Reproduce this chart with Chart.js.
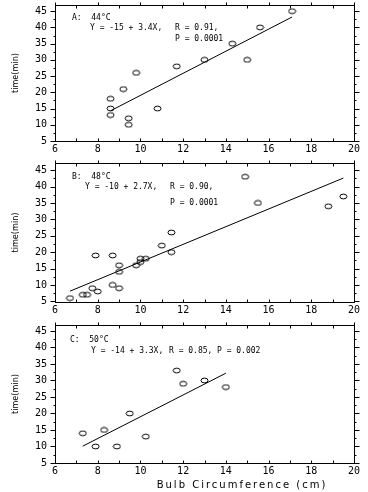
<!DOCTYPE html>
<html>
<head>
<meta charset="utf-8">
<script src="https://cdn.jsdelivr.net/npm/chart.js@4/dist/chart.umd.min.js"></script>
<style>
  body { margin: 0; background: #fff; }
  #wrap { position: relative; width: 368px; height: 492px; }
  canvas { position: absolute; left: 0; }
</style>
</head>
<body>
<div id="wrap">
  <canvas id="chartA" width="368" height="158" style="top:0px"></canvas>
  <canvas id="chartB" width="368" height="162" style="top:158px"></canvas>
  <canvas id="chartC" width="368" height="172" style="top:320px"></canvas>
</div>
<script>
// tick labels
var xTicks = [6, 8, 10, 12, 14, 16, 18, 20];
var yTicks = [5, 10, 15, 20, 25, 30, 35, 40, 45];

// A: 44°C
var bulbA = [8.6, 8.6, 8.6, 9.2, 9.45, 9.45, 9.8, 10.8, 11.7, 13.0, 14.3, 15.0, 15.6, 17.1];
var timeA = [18, 15, 13, 21, 12, 10, 26, 15, 28, 30, 35, 30, 40, 45];
var fitAx = [8.6, 17.1];
var fitAy = [14.3, 43.2];

// B: 48°C
var bulbB = [6.7, 7.3, 7.5, 7.75, 8.0, 7.9, 8.7, 8.7, 9.0, 9.0, 9.0, 9.8, 10.0, 10.0, 10.25, 11.0, 11.45, 11.45, 14.9, 15.5, 18.8, 19.5];
var timeB = [6, 7, 7, 9, 8, 19, 19, 10, 16, 14, 9, 16, 18, 17, 18, 22, 26, 20, 43, 35, 34, 37];
var fitBx = [6.7, 19.5];
var fitBy = [8.1, 42.6];

// C: 50°C
var bulbC = [7.3, 7.9, 8.3, 8.9, 9.5, 10.25, 11.7, 12.0, 13.0, 14.0];
var timeC = [14, 10, 15, 10, 20, 13, 33, 29, 30, 28];
var fitCx = [7.3, 14.0];
var fitCy = [10.1, 32.2];

function pairs(xs, ys) {
  return xs.map(function (x, i) { return { x: x, y: ys[i] }; });
}

// open oval marker
var oval = document.createElement('canvas');
oval.width = 9; oval.height = 7;
(function () {
  var c = oval.getContext('2d');
  c.strokeStyle = '#000';
  c.lineWidth = 1;
  c.beginPath();
  c.ellipse(4.5, 3.5, 3.5, 2.4, 0, 0, Math.PI * 2);
  c.stroke();
})();

var frame = {
  id: 'frame',
  afterDraw: function (chart, args, opts) {
    var ctx = chart.ctx, a = chart.chartArea;
    var xs = chart.scales.x, ys = chart.scales.y;
    var L = Math.round(a.left) + 0.5, R = Math.round(a.right) + 0.5;
    var T = Math.round(a.top) + 0.5, B = Math.round(a.bottom) + 0.5;
    ctx.save();
    ctx.strokeStyle = '#000';
    ctx.lineWidth = 1;
    ctx.strokeRect(L, T, R - L, B - T);
    ctx.beginPath();
    for (var v = 6; v <= 20; v++) {
      var px = Math.round(xs.getPixelForValue(v)) + 0.5;
      ctx.moveTo(px, B); ctx.lineTo(px, B - 3);
      if (v % 2 === 0) { ctx.moveTo(px, T); ctx.lineTo(px, T - 3); }
      else { ctx.moveTo(px, T); ctx.lineTo(px, T + 3); }
    }
    for (var w = 5; w <= 45; w += 2.5) {
      var py = Math.round(ys.getPixelForValue(w)) + 0.5;
      var len = (w % 5 === 0) ? 5 : 2;
      ctx.moveTo(L - len, py); ctx.lineTo(L, py);
      ctx.moveTo(R, py); ctx.lineTo(R + len, py);
    }
    ctx.stroke();
    ctx.fillStyle = '#000';
    ctx.textBaseline = 'middle';
    (opts.notes || []).forEach(function (n) {
      ctx.font = n.font || '8px "DejaVu Sans Mono"';
      ctx.textAlign = n.align || 'left';
      ctx.letterSpacing = n.spacing || '0px';
      ctx.fillText(n.text, a.left + n.dx, a.top + n.dy);
    });
    ctx.restore();
  }
};

var tickFont = { family: '"DejaVu Sans Mono", monospace', size: 10 };

function makePanel(id, xs, ys, fx, fy, ymin, ymax, padTop, xHeight, notes) {
  return new Chart(document.getElementById(id), {
    type: 'scatter',
    data: {
      datasets: [{
        data: pairs(xs, ys),
        pointStyle: oval,
        pointRadius: 4,
        pointHoverRadius: 4
      }, {
        data: pairs(fx, fy),
        showLine: true,
        borderColor: '#000',
        borderWidth: 1,
        pointRadius: 0
      }]
    },
    options: {
      responsive: false,
      animation: false,
      devicePixelRatio: 1,
      layout: { padding: { top: padTop, right: 14, left: 0, bottom: 0 } },
      plugins: {
        legend: { display: false },
        tooltip: { enabled: false },
        frame: { notes: notes }
      },
      scales: {
        x: {
          type: 'linear', min: 6, max: 20,
          grid: { display: false, drawTicks: false },
          border: { display: false },
          afterBuildTicks: function (s) { s.ticks = xTicks.map(function (v) { return { value: v }; }); },
          afterFit: function (s) { s.height = xHeight; s.paddingLeft = 0; s.paddingRight = 0; },
          ticks: { color: '#000', font: tickFont, padding: 2, maxRotation: 0 }
        },
        y: {
          type: 'linear', min: ymin, max: ymax,
          grid: { display: false, drawTicks: false },
          border: { display: false },
          afterBuildTicks: function (s) { s.ticks = yTicks.map(function (v) { return { value: v }; }); },
          afterFit: function (s) { s.width = 55; s.paddingTop = 0; s.paddingBottom = 0; },
          ticks: { color: '#000', font: tickFont, padding: 8 },
          title: {
            display: true, text: 'time(min)', color: '#000',
            font: { family: '"Liberation Sans Narrow", "DejaVu Sans Condensed", "Liberation Sans", sans-serif', size: 9 },
            padding: { top: 10, bottom: 0 }
          }
        }
      }
    },
    plugins: [frame]
  });
}

makePanel('chartA', bulbA, timeA, fitAx, fitAy, 5, 46.9, 1, 17, [
  { text: 'A:  44°C', dx: 17, dy: 13 },
  { text: 'Y = -15 + 3.4X,', dx: 35, dy: 23 },
  { text: 'R = 0.91,', dx: 120, dy: 23 },
  { text: 'P = 0.0001', dx: 120, dy: 34 }
]);

makePanel('chartB', bulbB, timeB, fitBx, fitBy, 4.8, 47.2, 3, 18, [
  { text: 'B:  48°C', dx: 17, dy: 14 },
  { text: 'Y = -10 + 2.7X,', dx: 30, dy: 24 },
  { text: 'R = 0.90,', dx: 115, dy: 24 },
  { text: 'P = 0.0001', dx: 115, dy: 40 }
]);

makePanel('chartC', bulbC, timeC, fitCx, fitCy, 5, 46.8, 4, 29, [
  { text: 'C:  50°C', dx: 15, dy: 15 },
  { text: 'Y = -14 + 3.3X,', dx: 36, dy: 26 },
  { text: 'R = 0.85,', dx: 114, dy: 26 },
  { text: 'P = 0.002', dx: 162, dy: 26 },
  { text: 'Bulb Circumference (cm)', dx: 187, dy: 160.5, align: 'center',
    font: '10px "DejaVu Sans"', spacing: '2px' }
]);
</script>
</body>
</html>
